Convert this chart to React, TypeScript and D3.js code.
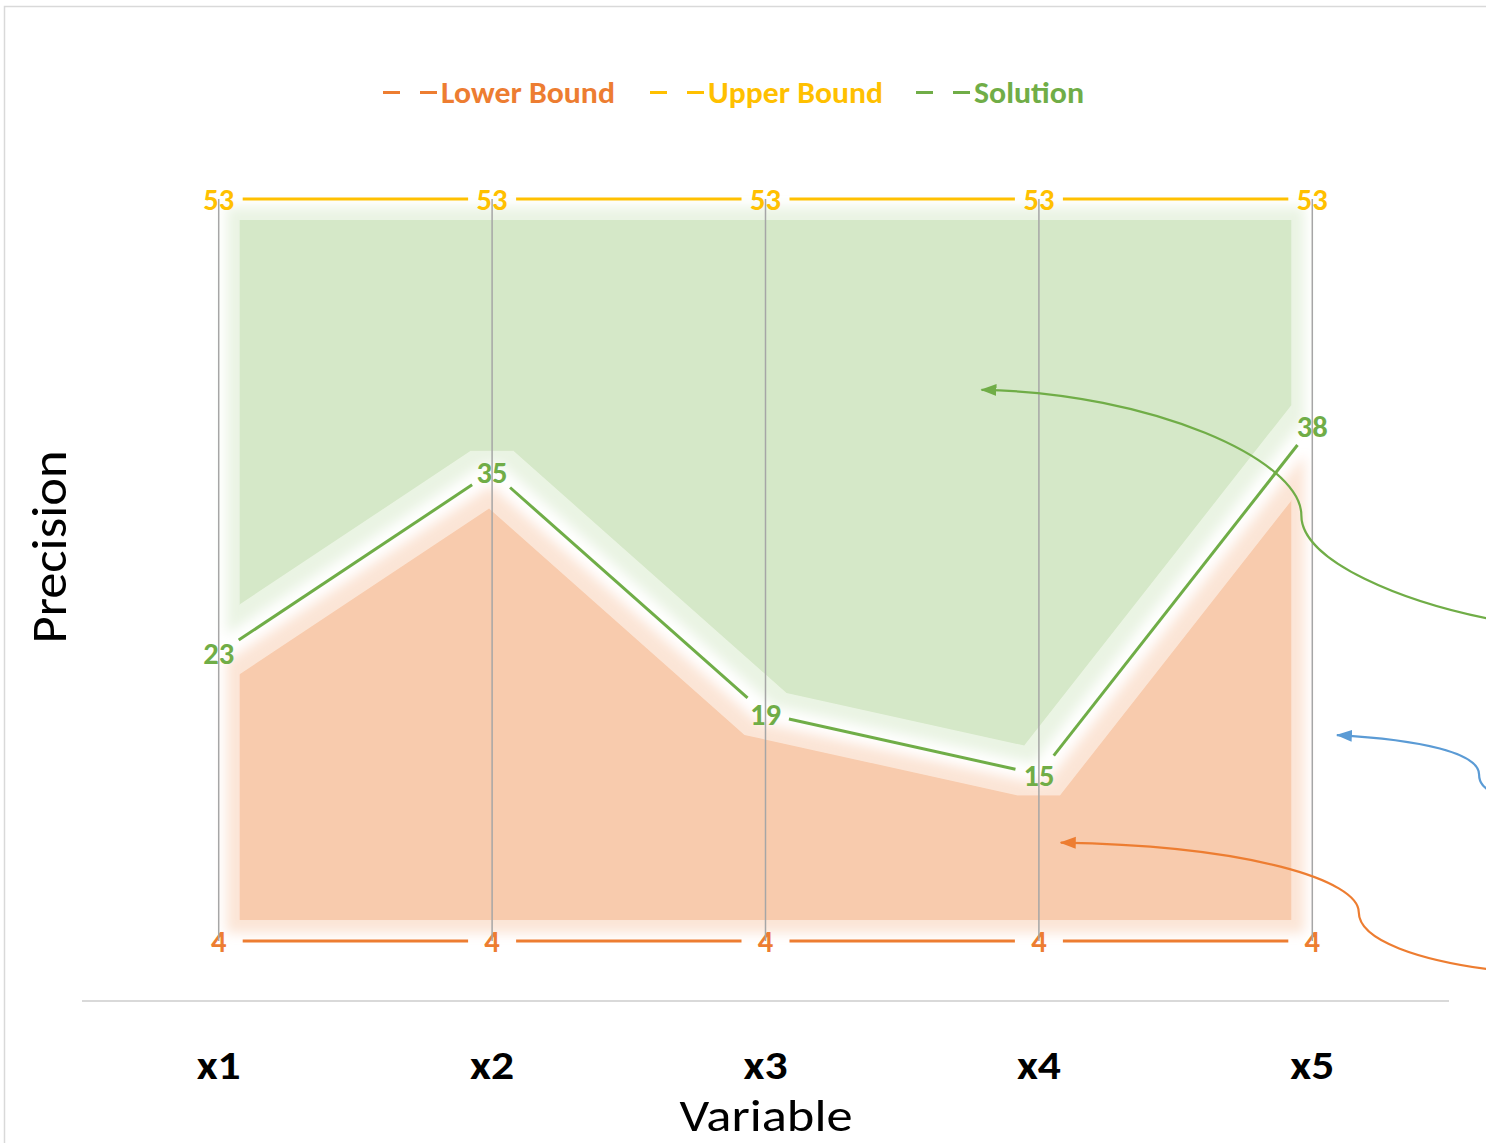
import React from 'react';
import * as d3 from 'd3';

const categories = ['x1', 'x2', 'x3', 'x4', 'x5'];
const lowerBound = [4, 4, 4, 4, 4];
const upperBound = [53, 53, 53, 53, 53];
const solution = [23, 35, 19, 15, 38];
const yDomain: [number, number] = [0, 60];

const seriesNames = ['Lower Bound', 'Upper Bound', 'Solution'];
const seriesColors = ['#ED7D31', '#FFC000', '#70AD47'];

// annotation callouts in data units: [categoryIndex, value]
const calloutGreen: [number, number][] = [[2.79, 40.4], [3.41, 40.2], [3.96, 35.8], [3.96, 32.1], [3.96, 29.1], [4.33, 26.3], [4.70, 25.1]];
const calloutBlue: [number, number][] = [[4.09, 17.6], [4.40, 17.3], [4.61, 16.4], [4.61, 15.0], [4.61, 14.4], [4.63, 14.1], [4.66, 13.8]];
const calloutOrange: [number, number][] = [[3.08, 10.5], [3.77, 10.3], [4.17, 8.0], [4.17, 5.9], [4.17, 4.0], [4.40, 2.7], [4.66, 2.1]];
const calloutColors = ['#70AD47', '#5B9BD5', '#ED7D31'];

const W = 1486;
const H = 1143;
const FONT = 'Carlito, Calibri, Lato, sans-serif';

export default function App() {
  const x = d3.scaleBand<string>().domain(categories).range([82, 1449]);
  const cx = (i: number) => (x(categories[i]) as number) + x.bandwidth() / 2;
  const xi = d3.scaleLinear().domain([0, 4]).range([cx(0), cx(4)]);
  const y = d3.scaleLinear().domain(yDomain).range([1001.6, 93]);

  const pts = (vals: number[]) => vals.map((v, i) => [cx(i), y(v)] as [number, number]);

  const gapSegs = (p: [number, number][], gap: number) => {
    const segs: string[] = [];
    for (let i = 0; i < p.length - 1; i++) {
      const [x0, y0] = p[i];
      const [x1, y1] = p[i + 1];
      const len = Math.hypot(x1 - x0, y1 - y0);
      const ux = (x1 - x0) / len, uy = (y1 - y0) / len;
      segs.push(`M${x0 + ux * gap},${y0 + uy * gap}L${x1 - ux * gap},${y1 - uy * gap}`);
    }
    return segs;
  };

  const areaGreen = d3.area<number>()
    .x((_, i) => cx(i))
    .y0((d) => y(d))
    .y1((_, i) => y(upperBound[i]))(solution) as string;
  const areaOrange = d3.area<number>()
    .x((_, i) => cx(i))
    .y0((_, i) => y(lowerBound[i]))
    .y1((d) => y(d))(solution) as string;

  const series = [lowerBound, upperBound, solution];

  const curve = (c: [number, number][]) => {
    const p = c.map(([a, b]) => [xi(a), y(b)]);
    return `M${p[0][0]},${p[0][1]}C${p[1][0]},${p[1][1]} ${p[2][0]},${p[2][1]} ${p[3][0]},${p[3][1]}C${p[4][0]},${p[4][1]} ${p[5][0]},${p[5][1]} ${p[6][0]},${p[6][1]}`;
  };

  const legendX = [383, 650, 916];
  const legendLen = [174, 175, 110];

  return (
    <svg width={W} height={H} style={{ position: 'absolute', left: 0, top: 0, background: '#fff' }} fontFamily={FONT}>
      <defs>
        <filter id="soft" x="-5%" y="-5%" width="110%" height="110%">
          <feMorphology in="SourceGraphic" operator="erode" radius="21" result="core" />
          <feMorphology in="SourceGraphic" operator="erode" radius="8" result="mid" />
          <feGaussianBlur in="mid" stdDeviation="6" result="blur" />
          <feComponentTransfer in="blur" result="halo">
            <feFuncA type="linear" slope="0.5" />
          </feComponentTransfer>
          <feMerge>
            <feMergeNode in="halo" />
            <feMergeNode in="core" />
          </feMerge>
        </filter>
        {calloutColors.map((c, i) => (
          <marker key={i} id={`arr${i}`} viewBox="0 0 16 14" refX="15" refY="7" markerWidth="16" markerHeight="14" orient="auto-start-reverse" markerUnits="userSpaceOnUse">
            <path d="M0,1L16,7L0,13Z" fill={c} />
          </marker>
        ))}
      </defs>
      <rect x={4.5} y={6.5} width={W + 20} height={H + 20} fill="none" stroke="#d9d9d9" strokeWidth={1.5} />

      {/* soft-edged areas */}
      <path d={areaGreen} fill="#d5e8c8" filter="url(#soft)" />
      <path d={areaOrange} fill="#f8cbad" filter="url(#soft)" />

      {/* x axis line */}
      <line x1={82} x2={1449} y1={y(0) - 0.5} y2={y(0) - 0.5} stroke="#d9d9d9" strokeWidth={2} />

      {/* series lines with gaps around labels */}
      {series.map((s, si) =>
        gapSegs(pts(s), 24).map((d, k) => (
          <path key={`${si}-${k}`} d={d} stroke={seriesColors[si]} strokeWidth={3} fill="none" />
        ))
      )}

      {/* data labels */}
      {series.map((s, si) =>
        s.map((v, i) => (
          <text key={`l${si}-${i}`} x={cx(i)} y={y(v)} dy="0.36em" textAnchor="middle" fontWeight="bold" fontSize={31}
            fill={seriesColors[si]} textLength={String(v).length * 15.5} lengthAdjust="spacingAndGlyphs">{v}</text>
        ))
      )}

      {/* drop lines */}
      {categories.map((c, i) => (
        <line key={c} x1={cx(i)} x2={cx(i)} y1={y(upperBound[i])} y2={y(lowerBound[i])} stroke="#a6a6a6" strokeWidth={1.5} />
      ))}

      {/* x tick labels */}
      {categories.map((c, i) => (
        <text key={c} x={cx(i)} y={1079} textAnchor="middle" fontWeight="bold" fontSize={40} fill="#000"
          textLength={44} lengthAdjust="spacingAndGlyphs">{c}</text>
      ))}

      {/* axis titles */}
      <text x={766} y={1131} textAnchor="middle" fontSize={46} fill="#000" textLength={173} lengthAdjust="spacingAndGlyphs">Variable</text>
      <text transform="translate(66,547) rotate(-90)" textAnchor="middle" fontSize={50} fill="#000" textLength={193} lengthAdjust="spacingAndGlyphs">Precision</text>

      {/* legend */}
      {seriesNames.map((n, i) => (
        <g key={n}>
          <line x1={legendX[i]} x2={legendX[i] + 54} y1={92.5} y2={92.5} stroke={seriesColors[i]} strokeWidth={3} strokeDasharray="17,20" />
          <text x={legendX[i] + 58} y={103} fontWeight="bold" fontSize={30} fill={seriesColors[i]} textLength={legendLen[i]} lengthAdjust="spacingAndGlyphs">{n}</text>
        </g>
      ))}

      {/* callout arrows */}
      {[calloutGreen, calloutBlue, calloutOrange].map((c, i) => (
        <path key={i} d={curve(c)} fill="none" stroke={calloutColors[i]} strokeWidth={2.2} markerStart={`url(#arr${i})`} />
      ))}
    </svg>
  );
}
